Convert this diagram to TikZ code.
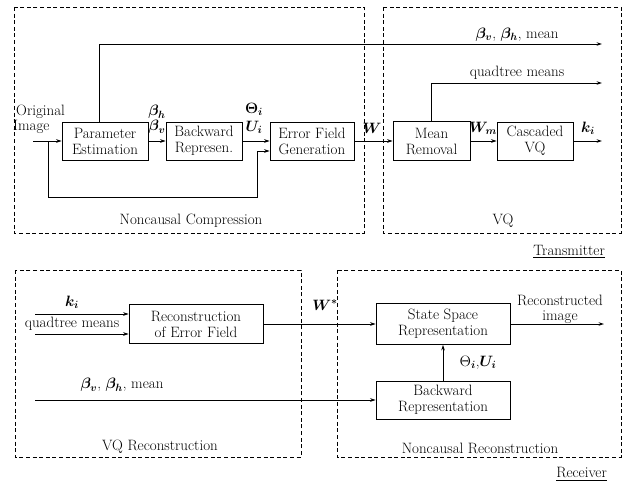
\RequirePackage{fix-cm}
\documentclass[tikz,border=0pt]{standalone}
\usepackage{amsmath}
\usetikzlibrary{arrows.meta}
\newcommand{\txtfont}{\fontsize{15}{16}\selectfont}
\begin{document}
\begin{tikzpicture}[x=1pt,y=-1pt,
  blk/.style={draw, line width=0.9pt, align=center, inner sep=1pt, font=\txtfont},
  grp/.style={draw, dash pattern=on 4pt off 2.6pt, line width=0.8pt},
  arr/.style={-{Stealth[length=5.5pt,width=3.6pt]}, line width=0.8pt},
  lbl/.style={inner sep=0pt, font=\txtfont},
  ttl/.style={inner sep=0pt, font=\txtfont}]
\useasboundingbox (0,0) rectangle (623,484);

% group boxes
\draw[grp] (14,7) rectangle (364,233);
\draw[grp] (383,7) rectangle (621,233);
\draw[grp] (15,270) rectangle (301,457);
\draw[grp] (337,270) rectangle (621,457);

\node[ttl] (tnc) at (191,221) {Noncausal Compression};
\node[ttl] (tvq) at (503,221) {VQ};
\node[ttl, anchor=east] (ttx) at (605,252) {\underline{Transmitter}};
\node[ttl] (tvqr) at (160,447) {VQ Reconstruction};
\node[ttl] (tncr) at (480,448) {Noncausal Reconstruction};
\node[ttl, anchor=east] (trx) at (607,474) {\underline{Receiver}};

% transmitter blocks
\node[blk, minimum width=86pt, minimum height=38pt] (pe) at (105,141) {Parameter\\Estimation};
\node[blk, minimum width=76pt, minimum height=38pt] (br) at (204,141) {Backward\\Represen.};
\node[blk, minimum width=84pt, minimum height=38pt] (ef) at (312,141) {Error Field\\Generation};
\node[blk, minimum width=77pt, minimum height=39pt] (mr) at (431.5,141) {Mean\\Removal};
\node[blk, minimum width=76pt, minimum height=38pt] (cvq) at (535,141) {Cascaded\\VQ};

% receiver blocks
\node[blk, minimum width=134pt, minimum height=39pt] (rec) at (196,324) {Reconstruction\\of Error Field};
\node[blk, minimum width=134pt, minimum height=41pt] (ssr) at (443,324) {State Space\\Representation};
\node[blk, minimum width=134pt, minimum height=38pt] (bkr) at (443,400) {Backward\\Representation};

% coordinates
\coordinate (in) at (33,141);
\coordinate (j1) at (48,141);
\coordinate (j2) at (257,197);
\coordinate (o1) at (602,44);
\coordinate (o2) at (602,83);
\coordinate (o3) at (602,141);
\coordinate (ik) at (35,314);
\coordinate (iq) at (35,334);
\coordinate (ib) at (35,400);
\coordinate (o4) at (604,324);

% transmitter connectors
\draw[arr] (in) -- (pe);
\draw[arr] (j1) |- (j2) |- ([yshift=-10pt]ef.west);
\draw[arr] (pe) -- (br);
\draw[arr] (br) -- (ef);
\draw[arr] (ef) -- (mr);
\draw[arr] (mr) -- (cvq);
\draw[arr] (cvq) -- (o3);
\draw[arr] ([xshift=-6pt]pe.north) |- (o1);
\draw[arr] (mr.north) |- (o2);

% receiver connectors
\draw[arr] (ik) -- (ik -| rec.west);
\draw[arr] (iq) -- (iq -| rec.west);
\draw[arr] (rec) -- (ssr);
\draw[arr] (ib) -- (bkr);
\draw[arr] (bkr) -- (ssr);
\draw[arr] (ssr) -- (o4);

% labels
\node[lbl, anchor=west] (lorig) at (16,112) {Original};
\node[lbl, anchor=west] (limg) at (13,127) {Image};
\node[lbl] (lbh) at (157,112) {$\boldsymbol{\beta_h}$};
\node[lbl] (lbv) at (157,127) {$\boldsymbol{\beta_v}$};
\node[lbl] (lth) at (254,109) {$\boldsymbol{\Theta_i}$};
\node[lbl] (lu) at (254,127) {$\boldsymbol{U_i}$};
\node[lbl] (lw) at (372,128) {$\boldsymbol{W}$};
\node[lbl] (lwm) at (483,128) {$\boldsymbol{W_m}$};
\node[lbl] (lk) at (588,128) {$\boldsymbol{k_i}$};
\node[lbl] (lbeta) at (517,35) {$\boldsymbol{\beta_v}$, $\boldsymbol{\beta_h}$, mean};
\node[lbl] (lqt) at (517,73) {quadtree means};

\node[lbl] (lk2) at (72,302) {$\boldsymbol{k_i}$};
\node[lbl] (lqt2) at (72,324) {quadtree means};
\node[lbl] (lbeta2) at (122,385) {$\boldsymbol{\beta_v}$, $\boldsymbol{\beta_h}$, mean};
\node[lbl] (lws) at (325,305) {$\boldsymbol{W^*}$};
\node[lbl] (ltu) at (478,363) {$\Theta_{\boldsymbol{i}}$,$\boldsymbol{U_i}$};
\node[lbl, align=center, font=\fontsize{15}{15}\selectfont] (lrec) at (560,309) {Reconstructed\\image};
\end{tikzpicture}
\end{document}
